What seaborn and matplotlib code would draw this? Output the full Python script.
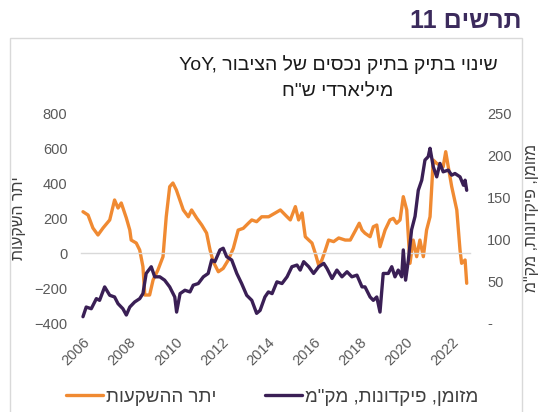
import matplotlib
matplotlib.use('Agg')
import matplotlib.pyplot as plt
from matplotlib.patches import Rectangle
from matplotlib.ticker import FuncFormatter
import pandas as pd
import seaborn as sns


def heb(s):
    # matplotlib has no bidi support, so Hebrew is written in visual order
    return s[::-1]


YEAR_TICKS = [2006, 2008, 2010, 2012, 2014, 2016, 2018, 2020, 2022]
LEFT_TICKS = [-400, -200, 0, 200, 400, 600, 800]
RIGHT_TICKS = [0, 50, 100, 150, 200, 250]

# יתר ההשקעות (left axis)
invest_t = [2006.00, 2006.22, 2006.43, 2006.65, 2006.87, 2007.16, 2007.37, 2007.52,
            2007.66, 2007.88, 2008.03, 2008.09, 2008.31, 2008.46, 2008.60, 2008.68,
            2008.89, 2009.04, 2009.25, 2009.47, 2009.61, 2009.76, 2009.90, 2010.05,
            2010.35, 2010.57, 2010.71, 2010.93, 2011.15, 2011.36, 2011.51, 2011.65,
            2011.87, 2012.08, 2012.30, 2012.52, 2012.73, 2012.95, 2013.17, 2013.32,
            2013.53, 2013.75, 2014.05, 2014.34, 2014.56, 2014.85, 2014.99, 2015.21,
            2015.35, 2015.50, 2015.64, 2015.79, 2015.93, 2016.07, 2016.22, 2016.36,
            2016.51, 2016.65, 2016.87, 2017.09, 2017.37, 2017.59, 2017.80, 2017.98,
            2018.10, 2018.23, 2018.45, 2018.59, 2018.74, 2018.88, 2019.10, 2019.31,
            2019.46, 2019.60, 2019.75, 2019.89, 2020.04, 2020.18, 2020.32, 2020.47,
            2020.61, 2020.76, 2020.90, 2021.05, 2021.19, 2021.34, 2021.48, 2021.62,
            2021.73, 2021.84, 2021.99, 2022.21, 2022.35, 2022.42, 2022.57, 2022.64]
invest_v = [236, 217, 143, 103, 143, 189, 303, 257,
            286, 200, 131, 74, 57, 17, -78, -240,
            -240, -154, -97, -21, 207, 379, 400, 360,
            246, 207, 246, 200, 160, 114, 17, -50,
            -107, -88, -40, 27, 131, 141, 170, 189,
            179, 207, 207, 229, 246, 207, 189, 265,
            189, 229, 93, 74, 57, 0, -69, -40,
            17, 74, 65, 86, 74, 74, 125, 170,
            131, 113, 93, 150, 160, 36, 131, 189,
            198, 170, 189, 322, 246, -59, 74, -21,
            74, -21, 131, 207, 531, 512, 503, 493,
            579, 493, 379, 246, 17, -59, -40, -173]

# מזומן, פיקדונות, מק"מ (right axis)
cash_t = [2006.00, 2006.14, 2006.36, 2006.58, 2006.72, 2006.94, 2007.16, 2007.37,
          2007.52, 2007.73, 2007.88, 2008.03, 2008.24, 2008.46, 2008.60, 2008.74,
          2008.96, 2009.11, 2009.33, 2009.54, 2009.76, 2009.98, 2010.06, 2010.21,
          2010.42, 2010.64, 2010.78, 2011.00, 2011.22, 2011.43, 2011.58, 2011.72,
          2011.94, 2012.08, 2012.23, 2012.45, 2012.67, 2012.88, 2013.10, 2013.32,
          2013.53, 2013.68, 2013.89, 2014.04, 2014.20, 2014.41, 2014.63, 2014.85,
          2015.06, 2015.28, 2015.42, 2015.57, 2015.79, 2016.00, 2016.22, 2016.44,
          2016.58, 2016.80, 2017.01, 2017.23, 2017.45, 2017.66, 2017.88, 2018.10,
          2018.23, 2018.45, 2018.59, 2018.74, 2018.88, 2019.02, 2019.24, 2019.39,
          2019.53, 2019.67, 2019.82, 2019.89, 2019.99, 2020.11, 2020.25, 2020.40,
          2020.54, 2020.69, 2020.83, 2020.97, 2021.05, 2021.19, 2021.34, 2021.48,
          2021.62, 2021.84, 2021.99, 2022.13, 2022.35, 2022.50, 2022.57, 2022.64]
cash_v = [7.5, 19, 17, 29, 27, 43, 33, 31,
          23, 17, 9.5, 19, 25, 29, 35, 59,
          67, 55, 55, 51, 43, 31, 13, 35,
          39, 37, 45, 47, 55, 59, 75, 73,
          87, 89, 79, 75, 59, 47, 33, 27,
          11.5, 15, 31, 37, 35, 49, 47, 55,
          67, 69, 63, 73, 67, 59, 67, 71,
          65, 53, 63, 55, 61, 55, 57, 43,
          43, 31, 27, 31, 13, 59, 59, 67,
          55, 63, 55, 87, 51, 75, 111, 127,
          158, 170, 194, 198, 208, 186, 174, 190,
          180, 182, 176, 178, 174, 164, 170, 158]

invest_label = 'יתר ההשקעות'
cash_label = 'מזומן, פיקדונות, מק"מ'

ORANGE = '#F08A32'
PURPLE = '#3A1F55'
GRAY = '#595959'

sns.set_style('white')
plt.rcParams['font.family'] = ['Liberation Sans', 'DejaVu Sans']

df_inv = pd.DataFrame({'t': invest_t, 'v': invest_v})
df_cash = pd.DataFrame({'t': cash_t, 'v': cash_v})

fig = plt.figure(figsize=(5.4, 4.12), dpi=100)
ax = fig.add_axes([0.1494, 0.216, 0.7217, 0.5097])
ax2 = ax.twinx()

sns.lineplot(data=df_inv, x='t', y='v', ax=ax, color=ORANGE, linewidth=2.4,
             label=heb(invest_label), legend=False)
sns.lineplot(data=df_cash, x='t', y='v', ax=ax2, color=PURPLE, linewidth=2.4,
             label=heb(cash_label), legend=False)

ax.set_xlim(2005.9, 2022.8)
ax.set_ylim(-400, 800)
ax2.set_ylim(0, 250)
ax.set_yticks(LEFT_TICKS)
ax2.set_yticks(RIGHT_TICKS)
ax2.yaxis.set_major_formatter(FuncFormatter(lambda v, p: '-' if v == 0 else f'{v:.0f}'))

# zero line with year ticks
for s in ['top', 'left', 'right']:
    ax.spines[s].set_visible(False)
for s in ax2.spines.values():
    s.set_visible(False)
ax.spines['bottom'].set_position(('data', 0))
ax.spines['bottom'].set_color('#d9d9d9')
ax.spines['bottom'].set_linewidth(1.0)
ax.set_xticks(YEAR_TICKS)
ax.tick_params(axis='x', direction='out', length=4, color='#d9d9d9', labelbottom=False)

sec = ax.secondary_xaxis('bottom')
sec.set_xticks(YEAR_TICKS)
sec.spines['bottom'].set_visible(False)
sec.tick_params(axis='x', length=0, pad=9, labelsize=10.5, labelcolor=GRAY)
for lab in sec.get_xticklabels():
    lab.set_rotation(45)
    lab.set_ha('right')
    lab.set_rotation_mode('anchor')

ax.tick_params(axis='y', length=0, pad=9.5, labelsize=10.5, labelcolor=GRAY)
ax2.tick_params(axis='y', length=0, pad=12, labelsize=10.5, labelcolor=GRAY)
ax.set_xlabel('')
ax.set_ylabel(heb('יתר השקעות'), fontsize=11.5, color='#404040', labelpad=6)
ax2.set_ylabel(heb(cash_label), fontsize=11.5, color='#404040', labelpad=9, rotation=90)
ax.grid(False)
ax2.grid(False)

# frame, headings, legend
fig.patches.append(Rectangle((10 / 540, -0.01), 512 / 540, 1.01 - 38 / 412,
                             transform=fig.transFigure, fill=False,
                             edgecolor='#d9d9d9', linewidth=1))
fig.text(522 / 540, 1 - 21 / 412, '11 ' + heb('תרשים'), ha='right', va='center',
         fontsize=18, fontweight='bold', color='#3B2A5C')
fig.text(338 / 540, 1 - 65 / 412, 'YoY, ' + heb('שינוי בתיק בתיק נכסים של הציבור'),
         ha='center', va='center', fontsize=14, color='#1a1a1a')
fig.text(338 / 540, 1 - 92 / 412, heb('מיליארדי ש"ח'),
         ha='center', va='center', fontsize=14, color='#1a1a1a')

handles = [ax.lines[0], ax2.lines[0]]
fig.legend(handles, [heb(invest_label), heb(cash_label)], loc='center',
           bbox_to_anchor=(272 / 540, 1 - 397 / 412), ncol=2, frameon=False,
           fontsize=13.5, labelcolor='#404040', handlelength=2.0, handletextpad=0.15,
           columnspacing=2.6)

fig.savefig('out.png', dpi=100)
